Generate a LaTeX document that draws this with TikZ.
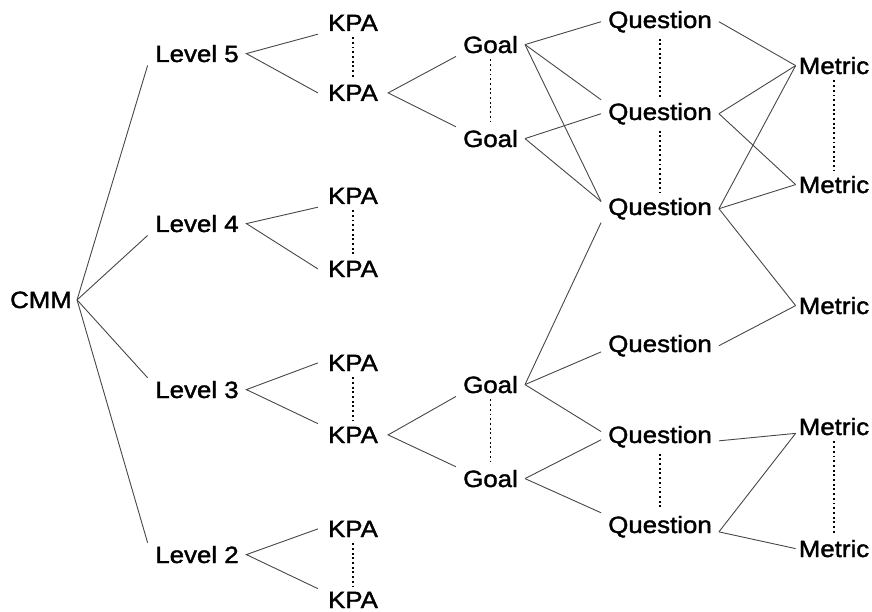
\documentclass[tikz,border=0pt]{standalone}
\usepackage{fontspec}
\setmainfont{Liberation Sans}[FakeStretch=1.1,FakeBold=1.6]
\begin{document}
\begin{tikzpicture}[x=1pt,y=-1pt,
  lbl/.style={anchor=base,inner ysep=3pt,font=\fontsize{23.5}{28}\selectfont},
  root/.style={lbl,inner xsep=5pt},
  lvl/.style={lbl,inner xsep=7.5pt},
  kpa/.style={lbl,inner xsep=10pt},
  goal/.style={lbl,inner xsep=7pt},
  quest/.style={lbl,inner xsep=7pt},
  metric/.style={lbl,inner xsep=3pt},
  link/.style={draw=black!72,line width=0.9pt},
  alt/.style={draw=black,line width=1.9pt,dash pattern=on 1.9pt off 2.8pt,
              shorten <=3pt,shorten >=3pt}]
\useasboundingbox (0,0) rectangle (872,612);

% root and maturity levels
\node[root] (cmm) at (41,308) {CMM};
\node[lvl] (l5) at (197,62)  {Level 5};
\node[lvl] (l4) at (197,232) {Level 4};
\node[lvl] (l3) at (197,398) {Level 3};
\node[lvl] (l2) at (197,563) {Level 2};

% key process areas
\node[kpa] (k1) at (353,31)  {KPA};
\node[kpa] (k2) at (353,101) {KPA};
\node[kpa] (k3) at (353,204) {KPA};
\node[kpa] (k4) at (353,277) {KPA};
\node[kpa] (k5) at (353,371) {KPA};
\node[kpa] (k6) at (353,443) {KPA};
\node[kpa] (k7) at (353,537) {KPA};
\node[kpa] (k8) at (353,608) {KPA};

% goals
\node[goal] (g1) at (490.5,53)  {Goal};
\node[goal] (g2) at (490.5,147) {Goal};
\node[goal] (g3) at (490.5,393) {Goal};
\node[goal] (g4) at (490.5,487) {Goal};

% questions
\node[quest] (q1) at (660,28)  {Question};
\node[quest] (q2) at (660,120) {Question};
\node[quest] (q3) at (660,215) {Question};
\node[quest] (q4) at (660,352) {Question};
\node[quest] (q5) at (660,443) {Question};
\node[quest] (q6) at (660,533) {Question};

% metrics
\node[metric] (m1) at (834,74)  {Metric};
\node[metric] (m2) at (834,193) {Metric};
\node[metric] (m3) at (834,314) {Metric};
\node[metric] (m4) at (834,435) {Metric};
\node[metric] (m5) at (834,557) {Metric};

% CMM to levels
\draw[link] (cmm.east) -- (l5.south west);
\draw[link] (cmm.east) -- (l4.south west);
\draw[link] (cmm.east) -- (l3.north west);
\draw[link] (cmm.east) -- (l2.north west);

% levels to KPAs
\draw[link] (k1.south west) -- (l5.east) -- (k2.west);
\draw[link] (k3.south west) -- (l4.east) -- (k4.west);
\draw[link] (k5.west) -- (l3.east) -- (k6.north west);
\draw[link] (k7.west) -- (l2.east) -- (k8.north west);

% KPAs to goals
\draw[link] (g1.south west) -- (k2.east) -- (g2.north west);
\draw[link] (g3.south west) -- (k6.east) -- (g4.north west);

% goals to questions
\draw[link] (g1.east) -- (q1.west);
\draw[link] (g1.east) -- (q2.north west);
\draw[link] (g1.east) -- (q3.173);
\draw[link] (g2.east) -- (q2.west);
\draw[link] (g2.east) -- (q3.173);
\draw[link] (g3.east) -- (q3.south west);
\draw[link] (g3.east) -- (q4.186);
\draw[link] (g3.east) -- (q5.175);
\draw[link] (g4.east) -- (q5.183);
\draw[link] (g4.east) -- (q6.north west);

% questions to metrics
\draw[link] (q1.east) -- (m1.west);
\draw[link] (q2.east) -- (m1.west);
\draw[link] (q2.east) -- (m2.west);
\draw[link] (q3.east) -- (m1.west);
\draw[link] (q3.east) -- (m2.west);
\draw[link] (q3.east) -- (m3.west);
\draw[link] (q4.east) -- (m3.west);
\draw[link] (q5.356) -- (m4.190);
\draw[link] (q6.355) -- (m4.190);
\draw[link] (q6.355) -- (m5.west);

% elided siblings
\draw[alt] (k1.south) -- (k2.north);
\draw[alt] (k3.south) -- (k4.north);
\draw[alt] (k5.south) -- (k6.north);
\draw[alt] (k7.south) -- (k8.north);
\draw[alt] (g1.south) -- (g2.north);
\draw[alt] (g3.south) -- (g4.north);
\draw[alt] (q1.south) -- (q2.north);
\draw[alt] (q2.south) -- (q3.north);
\draw[alt] (q5.south) -- (q6.north);
\draw[alt] (m1.south) -- (m2.north);
\draw[alt] (m4.south) -- (m5.north);
\end{tikzpicture}
\end{document}
